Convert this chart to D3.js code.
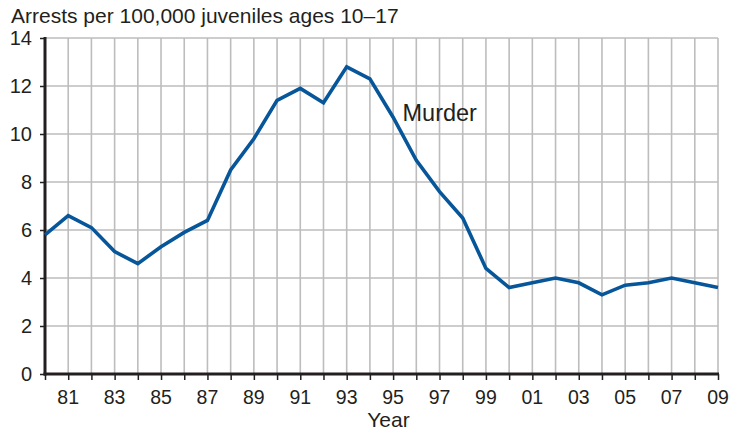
<!DOCTYPE html>
<html>
<head>
<meta charset="utf-8">
<script src="https://cdn.jsdelivr.net/npm/d3@7"></script>
<style>
  html, body { margin: 0; padding: 0; background: #fff; }
  svg text { font-family: "Liberation Sans", Arial, Helvetica, sans-serif; fill: #231f20; }
</style>
</head>
<body>
<svg id="chart" width="733" height="429"></svg>
<script>
// data
const years = [1980, 1981, 1982, 1983, 1984, 1985, 1986, 1987, 1988, 1989,
               1990, 1991, 1992, 1993, 1994, 1995, 1996, 1997, 1998, 1999,
               2000, 2001, 2002, 2003, 2004, 2005, 2006, 2007, 2008, 2009];
const murderRate = [5.8, 6.6, 6.1, 5.1, 4.6, 5.3, 5.9, 6.4, 8.5, 9.8,
                    11.4, 11.9, 11.3, 12.8, 12.3, 10.7, 8.9, 7.6, 6.5, 4.4,
                    3.6, 3.8, 4.0, 3.8, 3.3, 3.7, 3.8, 4.0, 3.8, 3.6];
const yTicks = [0, 2, 4, 6, 8, 10, 12, 14];
const xLabelYears = years.filter(y => y % 2 === 1);
const seriesLabel = "Murder";
const yTitle = "Arrests per 100,000 juveniles ages 10\u201317";
const xTitle = "Year";

// chart geometry
const plotLeft = 45, plotRight = 718, plotTop = 38, plotBottom = 374;
const svg = d3.select("#chart");

const x = d3.scaleLinear().domain([1980, 2009]).range([plotLeft, plotRight]);
const y = d3.scaleLinear().domain([0, 14]).range([plotBottom, plotTop]);

// grid
const grid = svg.append("g").attr("stroke", "#bdbdbd").attr("stroke-width", 1.6);
grid.selectAll("line.v").data(years.slice(1)).join("line")
  .attr("x1", d => x(d)).attr("x2", d => x(d))
  .attr("y1", plotTop).attr("y2", plotBottom);
grid.selectAll("line.h").data(yTicks.slice(1)).join("line")
  .attr("x1", plotLeft).attr("x2", plotRight)
  .attr("y1", d => y(d)).attr("y2", d => y(d));

// axes
const xAxis = d3.axisBottom(x).tickValues(years).tickSize(6).tickFormat(() => "");
const gx = svg.append("g").attr("transform", `translate(0,${plotBottom})`).call(xAxis);
gx.select(".domain").remove();
gx.selectAll(".tick line").attr("stroke", "#231f20").attr("stroke-width", 1.5);

gx.selectAll(".lbl").data(xLabelYears).join("text")
  .attr("x", d => x(d)).attr("y", 29.5)
  .attr("text-anchor", "middle")
  .style("font-size", "19.5px")
  .text(d => String(d % 100).padStart(2, "0"));

const yAxis = d3.axisLeft(y).tickValues(yTicks).tickSize(5).tickPadding(8);
const gy = svg.append("g").attr("transform", `translate(${plotLeft},0)`).call(yAxis);
gy.select(".domain").remove();
gy.selectAll(".tick line").attr("stroke", "#231f20").attr("stroke-width", 1.5);
gy.selectAll(".tick text").style("font-size", "20px").attr("fill", "#231f20")
  .style("font-family", '"Liberation Sans", Arial, sans-serif');

// axis lines
svg.append("line").attr("x1", plotLeft).attr("x2", plotLeft).attr("y1", plotTop - 1).attr("y2", plotBottom + 1.5)
  .attr("stroke", "#231f20").attr("stroke-width", 3);
svg.append("line").attr("x1", plotLeft - 1.5).attr("x2", plotRight + 1).attr("y1", plotBottom).attr("y2", plotBottom)
  .attr("stroke", "#231f20").attr("stroke-width", 3);

// series
const line = d3.line()
  .x((d, i) => x(years[i]))
  .y(d => y(d));
svg.append("path")
  .attr("d", line(murderRate))
  .attr("fill", "none")
  .attr("stroke", "#07569a")
  .attr("stroke-width", 3.6)
  .attr("stroke-linejoin", "miter");

// labels
svg.append("text").attr("x", 402.5).attr("y", 120.7)
  .style("font-size", "23.5px").text(seriesLabel);
svg.append("text").attr("x", 11).attr("y", 22.5)
  .style("font-size", "21px").text(yTitle);
svg.append("text").attr("x", 388.5).attr("y", 426.5).attr("text-anchor", "middle")
  .style("font-size", "21px").text(xTitle);
</script>
</body>
</html>
